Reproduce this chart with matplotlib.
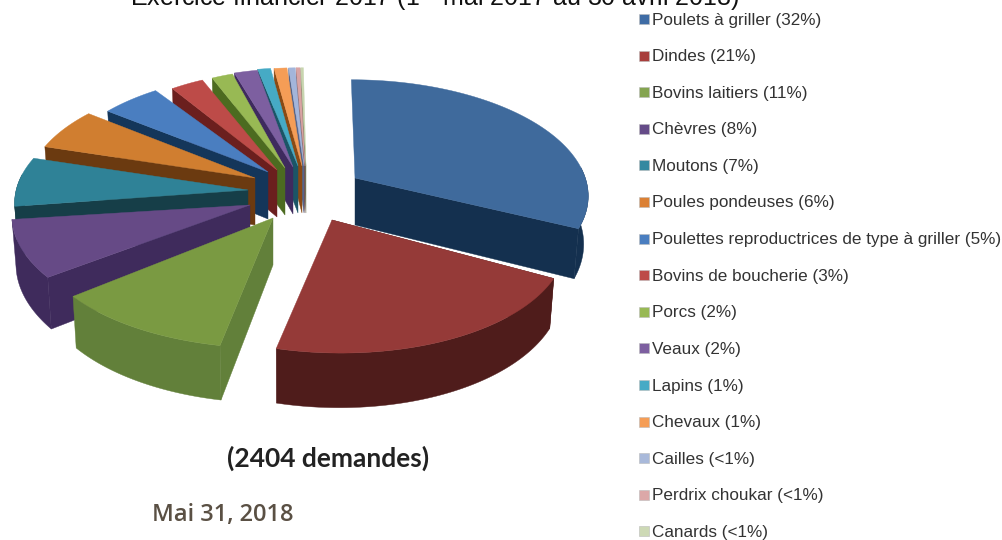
import numpy as np
from matplotlib import pyplot as plt

# Share of requests per species, percent (the <1% ones are estimated)
species = ['Poulets à griller (32%)', 'Dindes (21%)', 'Bovins laitiers (11%)', 'Chèvres (8%)',
           'Moutons (7%)', 'Poules pondeuses (6%)', 'Poulettes reproductrices de type à griller (5%)',
           'Bovins de boucherie (3%)', 'Porcs (2%)', 'Veaux (2%)', 'Lapins (1%)', 'Chevaux (1%)',
           'Cailles (<1%)', 'Perdrix choukar (<1%)', 'Canards (<1%)']
shares = [32, 21, 11, 8, 7, 6, 5, 3, 2, 2, 1, 1, 0.5, 0.3, 0.2]

# Styles
top_colors = ['#3F6A9C', '#953A38', '#7A9A42', '#664A86', '#2F8297', '#D07E30', '#4A7EC0', '#BD4B48',
              '#98B954', '#7D5FA0', '#46AAC5', '#F59D56', '#A3B5DA', '#D9A3A3', '#C8D5AF']
side_colors = ['#14304F', '#4F1C1B', '#62803A', '#3F2B5C', '#163E48', '#6B3A10', '#14365A', '#6B1F1E',
               '#4C6B20', '#3E2A5E', '#1B5566', '#8A4A14', '#56658A', '#7A4F4F', '#6F7A58']
key_colors = ['#3F6CA5', '#A83E3C', '#84A450', '#654B88', '#3489A0', '#DB8034', '#4A7EC0', '#BD4B48',
              '#98B954', '#7D5FA0', '#46AAC5', '#F59D56', '#A9B9DA', '#DCA8A8', '#CDD9B5']

# Exploded position of each slice tip, in pixels, and the drawing order (back to front)
tip_x = [355, 332, 273, 250, 248, 255, 268, 277, 285, 293, 298, 302, 304, 305, 306]
tip_y = [178, 220, 218, 205, 190, 178, 172, 170, 168, 167, 166, 166, 166, 166, 166]
draw_order = [14, 13, 12, 11, 10, 9, 8, 7, 6, 5, 4, 3, 2, 0, 1]

# Projection of the pie plane
center_x = 285
radius_x = 235
radius_y = 112
persp = 0.14
depth = 47
# Small per-slice corrections to the projection: x scale, x from y, y from x, y scale
stretch = {0: (0.98, -0.05, 0, 1), 1: (0.99, -0.1, 0.03, 1.02), 3: (1.0, 0, 0.03, 1), 4: (0.98, 0, 0.022, 1),
           5: (0.96, 0, 0.02, 1), 6: (0.92, 0, 0, 1), 7: (0.85, 0, 0, 1), 8: (0.82, 0, 0, 1), 9: (0.9, 0, 0, 1)}


def project(i, theta):
    u = np.sin(theta)
    v = np.cos(theta)
    s = 1 / (1 + persp * v)
    dx = radius_x * u * s
    dy = -radius_y * v * s
    if i in stretch:
        m = stretch[i]
        dx, dy = m[0] * dx + m[1] * dy, m[2] * dx + m[3] * dy
    x = tip_x[i] + dx - (tip_x[i] - center_x) * (1 - s)
    y = tip_y[i] + dy
    return x, y, depth * s


def drop(x):
    # bottom edge, pulled a little to the middle by perspective
    return x + (center_x - x) * 0.015


def draw_slice(ax, i, start, end):
    theta = np.linspace(start, end, 80)
    x, y, d = project(i, theta)
    bx = drop(x)
    # outer wall, front part only
    front = np.cos(theta) < 0.1
    if front.sum() > 1:
        ax.fill(np.r_[x[front], bx[front][::-1]], np.r_[y[front], (y + d)[front][::-1]],
                color=side_colors[i], lw=0.3)
    # the cut face that looks to the viewer
    k = -1 if end < np.pi else 0
    ax.fill([tip_x[i], x[k], bx[k], tip_x[i]],
            [tip_y[i], y[k], y[k] + d[k], tip_y[i] + depth],
            color=side_colors[i], lw=0.3)
    # top
    ax.fill(np.r_[tip_x[i], x], np.r_[tip_y[i], y], color=top_colors[i], lw=0.3)


plt.rcParams['mathtext.fontset'] = 'custom'
plt.rcParams['mathtext.rm'] = 'Liberation Sans'

fig = plt.figure(figsize=(10.02, 5.40), dpi=100)
ax = fig.add_axes([0, 0, 1, 1])
ax.set_xlim(0, 1002)
ax.set_ylim(540, 0)
ax.axis('off')

edges = np.radians(np.r_[0, np.cumsum(shares)] * 3.6)
for i in draw_order:
    draw_slice(ax, i, edges[i], edges[i + 1])

# Legend
for i in range(len(species)):
    y = 19 + i * 36.6
    ax.scatter(644, y, marker='s', s=42, color=key_colors[i], edgecolors='#BBBBBB', linewidths=0.4)
    ax.text(652, y + 1, species[i], family='Liberation Sans', fontsize=12.3, color='#333333', va='center')

ax.text(130, 6, r'Exercice financier 2017 (1$^{\mathrm{er}}$ mai 2017 au 30 avril 2018)',
        family='Liberation Sans', fontsize=18, color='#111111', va='baseline')
ax.text(328, 458, '(2404 demandes)', family='Lato', weight='bold', fontsize=19, color='#222222',
        ha='center', va='center')
ax.text(222.5, 515, 'Mai 31, 2018', family='Open Sans', weight='semibold', fontsize=17, color='#5A5044',
        ha='center', va='center')

fig.savefig('out.png', dpi=100)
